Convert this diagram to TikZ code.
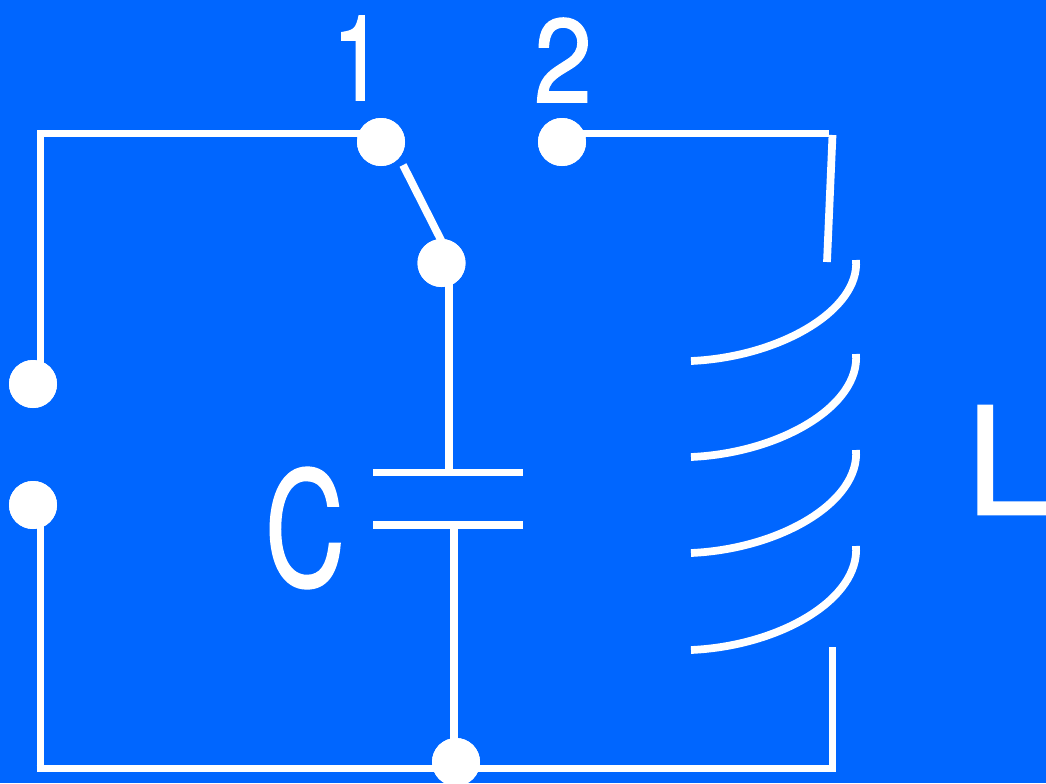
\documentclass[tikz,border=0pt]{standalone}
\usepackage{fontspec}
\setmainfont[AutoFakeBold=1.2]{TeX Gyre Heros}
\definecolor{bg}{RGB}{0,102,255}
\tikzset{
 wire/.style={draw=white,line width=5.8pt,line cap=butt},
 dotnode/.style={circle,fill=white,draw=none,minimum size=36pt,inner sep=0pt},
 lab/.style={text=white,inner sep=0pt,anchor=center}
}
\begin{document}
\begin{tikzpicture}[x=0.75pt,y=-0.75pt]
\path[use as bounding box,fill=bg] (0,0) rectangle (1046,783);
\clip (0,0) rectangle (1046,783);
\node[dotnode] (s1) at (381,142) {};
\node[dotnode] (s2) at (562,142) {};
\node[dotnode] (m) at (441.5,263) {};
\node[dotnode] (a) at (33,384) {};
\node[dotnode] (b) at (33,505) {};
\node[dotnode] (g) at (456,762) {};
\coordinate (tl) at (40.5,133.5);
\coordinate (bl) at (40.5,768.5);
\coordinate (tr) at (829,133.5);
\coordinate (br) at (832.5,768.5);
\coordinate (capTop) at (449,472.5);
\coordinate (capBot) at (454,525);
\coordinate (swA) at (403,165);
\coordinate (swB) at (442.5,243);
\coordinate (lTopA) at (832.5,135);
\coordinate (lTop) at (827,262);
\coordinate (lBot) at (832.5,647);
\draw[wire] (a) ++(7.5,0) -- ([yshift=-2.5]tl);
\draw[wire] ([xshift=-2.5]tl) -- (s1 |- tl);
\draw[wire] (s2 |- tr) -- (tr);
\draw[wire] (lTopA) -- (lTop);
\draw[wire] (swA) -- (swB);
\draw[wire] (m -| capTop) -- (capTop);
\draw[wire] (373,472.5) -- (523,472.5);
\draw[wire] (373,525) -- (523,525);
\draw[wire] (capBot) -- (g -| capBot);
\draw[wire] (b) ++(7.5,0) -- (bl);
\draw[wire] ([xshift=-3]bl) -- ([xshift=2.5]br);
\draw[wire] (br) -- (lBot);
\draw[wire] (691,361) .. controls (780,357) and (860,310) .. (856,260);
\draw[wire] (691,457) .. controls (780,453) and (860,406) .. (856,354);
\draw[wire] (691,553) .. controls (780,549) and (860,502) .. (856,450);
\draw[wire] (691,650) .. controls (780,646) and (860,599) .. (856,546);
\node[dotnode] at (s1) {};
\node[dotnode] at (s2) {};
\node[dotnode] at (m) {};
\node[dotnode] at (a) {};
\node[dotnode] at (b) {};
\node[dotnode] at (g) {};
\node[lab,font=\bfseries\fontsize{89}{89}\selectfont,xscale=0.78] (n1) at (358,58) {1};
\node[lab,font=\bfseries\fontsize{89}{89}\selectfont,xscale=0.88] (n2) at (563,60) {2};
\node[lab,font=\bfseries\fontsize{119}{119}\selectfont,xscale=0.7] (c) at (305,528) {C};
\node[lab,font=\bfseries\fontsize{112}{112}\selectfont,anchor=west] (l) at (966,460) {L};
\end{tikzpicture}
\end{document}
